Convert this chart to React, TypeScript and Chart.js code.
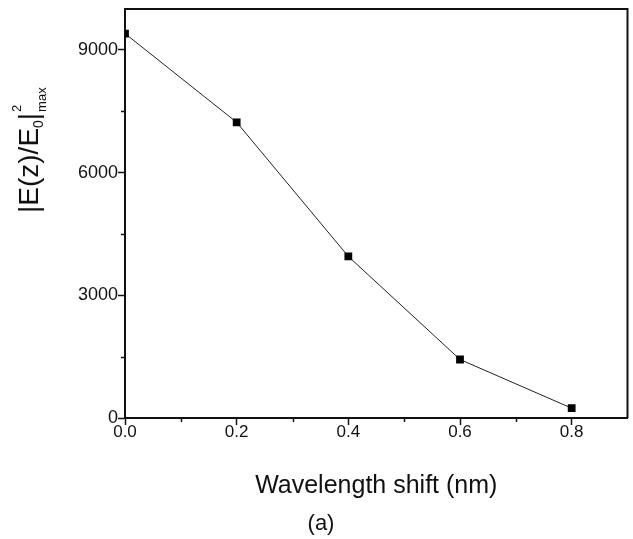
import React, { useEffect, useRef } from 'react';
import { Chart, registerables } from 'chart.js';

Chart.register(...registerables);

const wavelengthShift = [0.0, 0.2, 0.4, 0.6, 0.8];
const fieldEnhancement = [9400, 7230, 3950, 1430, 240];
const xMajorTicks = [0, 0.2, 0.4, 0.6, 0.8];
const xMinorTicks = [0.1, 0.3, 0.5, 0.7];
const yMajorTicks = [0, 3000, 6000, 9000];
const yMinorTicks = [1500, 4500, 7500];
const xTitle = 'Wavelength shift (nm)';
const yTitleMain = '|E(z)/E';
const yTitleSub = '0';
const yTitleBar = '|';
const yTitleSup = '2';
const yTitleSub2 = 'max';
const panelLabel = '(a)';

const FONT = '"Liberation Sans", Arial, Helvetica, sans-serif';
const INK = '#111';

const decorPlugin = {
  id: 'decor',
  afterDraw(chart: any) {
    const { ctx, chartArea: a, scales } = chart;
    ctx.save();
    ctx.strokeStyle = INK;
    ctx.lineWidth = 2;
    ctx.beginPath();
    ctx.moveTo(a.left, a.top);
    ctx.lineTo(a.right, a.top);
    ctx.lineTo(a.right, a.bottom);
    ctx.stroke();

    ctx.lineWidth = 1.5;
    ctx.beginPath();
    for (const v of xMinorTicks) {
      const px = Math.round(scales.x.getPixelForValue(v)) + 0.5;
      ctx.moveTo(px, a.bottom);
      ctx.lineTo(px, a.bottom + 4);
    }
    for (const v of yMinorTicks) {
      const py = Math.round(scales.y.getPixelForValue(v)) + 0.5;
      ctx.moveTo(a.left - 4, py);
      ctx.lineTo(a.left, py);
    }
    ctx.stroke();

    ctx.fillStyle = INK;
    ctx.textBaseline = 'alphabetic';
    ctx.textAlign = 'center';
    ctx.font = `25px ${FONT}`;
    ctx.fillText(xTitle, (a.left + a.right) / 2, 493);
    ctx.font = `22px ${FONT}`;
    ctx.fillText(panelLabel, 321, 530);

    ctx.translate(38, 213);
    ctx.rotate(-Math.PI / 2);
    ctx.textAlign = 'left';
    let x = 0;
    ctx.font = `28px ${FONT}`;
    ctx.fillText(yTitleMain, x, 0);
    x += ctx.measureText(yTitleMain).width;
    ctx.font = `14px ${FONT}`;
    ctx.fillText(yTitleSub, x, 5);
    x += ctx.measureText(yTitleSub).width;
    ctx.font = `28px ${FONT}`;
    ctx.fillText(yTitleBar, x, 0);
    x += ctx.measureText(yTitleBar).width + 1;
    ctx.font = `13px ${FONT}`;
    ctx.fillText(yTitleSup, x, -17);
    ctx.fillText(yTitleSub2, x, 8);
    ctx.restore();
  },
};

export default function App() {
  const ref = useRef<HTMLCanvasElement>(null);

  useEffect(() => {
    if (!ref.current) return;
    const chart = new Chart(ref.current, {
      type: 'line',
      data: {
        datasets: [
          {
            data: wavelengthShift.map((x, i) => ({ x, y: fieldEnhancement[i] })),
            borderColor: '#222',
            borderWidth: 1,
            pointStyle: 'rect',
            pointRadius: 5.5,
            pointBackgroundColor: '#000',
            pointBorderWidth: 0,
            pointHoverRadius: 5.5,
            clip: 0,
            tension: 0,
          } as any,
        ],
      },
      options: {
        responsive: false,
        animation: false,
        events: [],
        layout: { padding: { left: 0, top: 9, right: 1, bottom: 0 } },
        plugins: {
          legend: { display: false },
          tooltip: { enabled: false },
          title: { display: false },
        },
        scales: {
          x: {
            type: 'linear',
            min: 0,
            max: 0.9,
            afterBuildTicks: (s: any) => {
              s.ticks = xMajorTicks.map((value) => ({ value }));
            },
            afterFit: (s: any) => {
              s.height = 121;
              s.paddingLeft = 0;
              s.paddingRight = 0;
            },
            ticks: {
              callback: (v: any) => Number(v).toFixed(1),
              font: { family: FONT, size: 17 },
              color: INK,
              padding: -3,
              maxRotation: 0,
              autoSkip: false,
            },
            grid: { drawOnChartArea: false, tickLength: 7, tickWidth: 1.5, color: INK },
            border: { width: 2, color: INK },
          },
          y: {
            type: 'linear',
            min: 0,
            max: 10000,
            afterBuildTicks: (s: any) => {
              s.ticks = yMajorTicks.map((value) => ({ value }));
            },
            afterFit: (s: any) => {
              s.width = 125;
              s.paddingTop = 0;
              s.paddingBottom = 0;
            },
            ticks: {
              callback: (v: any) => String(v),
              font: { family: FONT, size: 18 },
              color: INK,
              padding: 0,
              autoSkip: false,
            },
            grid: { drawOnChartArea: false, tickLength: 7, tickWidth: 1.5, color: INK },
            border: { width: 2, color: INK },
          },
        },
      },
      plugins: [decorPlugin],
    });
    return () => chart.destroy();
  }, []);

  return (
    <div style={{ position: 'fixed', left: 0, top: 0, width: 633, height: 539, background: '#fff' }}>
      <canvas ref={ref} width={633} height={539} style={{ width: 633, height: 539, display: 'block' }} />
    </div>
  );
}
